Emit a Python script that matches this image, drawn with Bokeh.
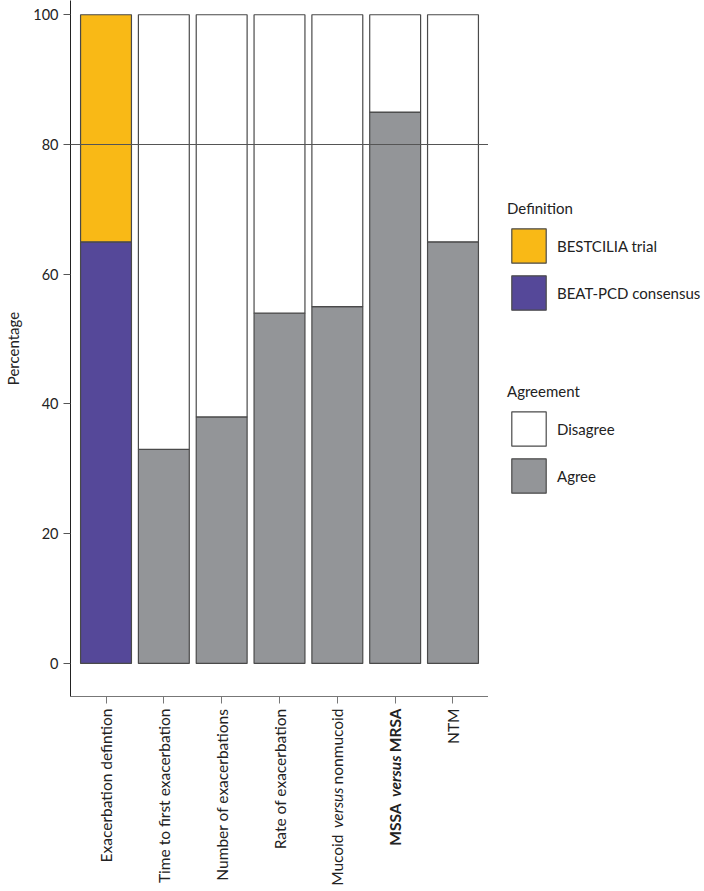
import math
from bokeh.plotting import figure
from bokeh.layouts import column, row
from bokeh.models import (FactorRange, Range1d, Span, Legend, LegendItem,
                          FixedTicker, ColumnDataSource)
from bokeh.core.properties import value
from bokeh.embed import file_html
from bokeh.resources import INLINE

# ---------------- data ----------------
categories = ["Exacerbation defintion", "Time to first exacerbation",
              "Number of exacerbations", "Rate of exacerbation",
              "Mucoid versus nonmucoid", "MSSA versus MRSA", "NTM"]
definition_categories = ["Exacerbation defintion"]
beat_pcd = [65]
bestcilia = [35]
agreement_categories = ["Time to first exacerbation", "Number of exacerbations",
                        "Rate of exacerbation", "Mucoid versus nonmucoid",
                        "MSSA versus MRSA", "NTM"]
agree = [33, 38, 54, 55, 85, 65]
disagree = [67, 62, 46, 45, 15, 35]
y_ticks = [0, 20, 40, 60, 80, 100]
threshold = 80

# label pieces: (category, text piece, font style)
label_pieces = [
    ("Exacerbation defintion", "Exacerbation defintion", "normal"),
    ("Time to first exacerbation", "Time to first exacerbation", "normal"),
    ("Number of exacerbations", "Number of exacerbations", "normal"),
    ("Rate of exacerbation", "Rate of exacerbation", "normal"),
    ("Mucoid versus nonmucoid", "nonmucoid", "normal"),
    ("Mucoid versus nonmucoid", "versus", "italic"),
    ("Mucoid versus nonmucoid", "Mucoid", "normal"),
    ("MSSA versus MRSA", "MRSA", "bold"),
    ("MSSA versus MRSA", "versus", "bold italic"),
    ("MSSA versus MRSA", "MSSA", "bold"),
    ("NTM", "NTM", "normal"),
]
# offset (px, downward from label top) of each piece, in the same order
piece_offsets = [0, 0, 0, 0, 0, 79, 126, 0, 47, 95, 0]

FONT = "Lato"
YELLOW = "#F9B916"
PURPLE = "#554899"
GREY = "#939598"
EDGE = "#4a4a4a"
TXT = "#222222"

LEFT = 70
FRAME_W = 418
FRAME_H = 696
AXIS_PANEL = 12
TOTAL_H = 891
LEG_W = 704 - LEFT - FRAME_W

x_range = FactorRange(factors=categories, range_padding=0.114,
                      range_padding_units="absolute")

# ---------------- main chart ----------------
p = figure(x_range=x_range, y_range=Range1d(-5.1, 102.2),
           width=LEFT + FRAME_W, height=FRAME_H + AXIS_PANEL,
           output_backend="svg", toolbar_location=None,
           min_border_left=LEFT, min_border_right=0, min_border_top=0,
           min_border_bottom=AXIS_PANEL)
p.outline_line_color = None
p.xgrid.visible = False
p.ygrid.visible = False

src_def = ColumnDataSource(dict(x=definition_categories, beat=beat_pcd, best=bestcilia))
p.vbar_stack(["beat", "best"], x="x", width=0.88, source=src_def,
             fill_color=[PURPLE, YELLOW], line_color=EDGE, line_width=1.2)
src_agr = ColumnDataSource(dict(x=agreement_categories, agree=agree, disagree=disagree))
p.vbar_stack(["agree", "disagree"], x="x", width=0.88, source=src_agr,
             fill_color=[GREY, "white"], line_color=EDGE, line_width=1.2)

p.add_layout(Span(location=threshold, dimension="width", line_color="#555555",
                  line_width=1.2))

p.yaxis.ticker = FixedTicker(ticks=y_ticks)
p.yaxis.axis_label = "Percentage"
p.yaxis.axis_label_text_font = FONT
p.yaxis.axis_label_text_font_style = "normal"
p.yaxis.axis_label_text_font_size = "15px"
p.yaxis.axis_label_text_color = TXT
p.yaxis.axis_label_standoff = 8
p.yaxis.major_label_text_font = FONT
p.yaxis.major_label_text_font_size = "14.5px"
p.yaxis.major_label_text_color = TXT
p.yaxis.major_label_standoff = 5
p.yaxis.major_tick_out = 7
p.yaxis.major_tick_in = 0
p.yaxis.minor_tick_line_color = None
p.yaxis.axis_line_color = TXT
p.yaxis.major_tick_line_color = "#555555"

p.xaxis.major_label_overrides = {c: " " for c in categories}
p.xaxis.major_label_text_font_size = "1px"
p.xaxis.major_label_text_alpha = 0
p.xaxis.major_label_standoff = 0
p.xaxis.major_tick_out = 7
p.xaxis.major_tick_in = 0
p.xaxis.axis_line_color = "#777777"
p.xaxis.major_tick_line_color = "#777777"

# ---------------- category label strip ----------------
STRIP_H = TOTAL_H - FRAME_H - AXIS_PANEL
s = figure(x_range=x_range, y_range=Range1d(STRIP_H, 0),
           width=LEFT + FRAME_W, height=STRIP_H,
           output_backend="svg", toolbar_location=None,
           min_border_left=LEFT, min_border_right=0, min_border_top=0,
           min_border_bottom=0, x_axis_location=None, y_axis_location=None)
s.outline_line_color = None
s.xgrid.visible = False
s.ygrid.visible = False
for style in ["normal", "italic", "bold", "bold italic"]:
    idx = [i for i, lp in enumerate(label_pieces) if lp[2] == style]
    src = ColumnDataSource(dict(x=[label_pieces[i][0] for i in idx],
                                y=[piece_offsets[i] for i in idx],
                                text=[label_pieces[i][1] for i in idx]))
    s.text(x="x", y="y", text="text", source=src, angle=math.pi / 2,
           text_align="right", text_baseline="middle",
           text_font=value(FONT), text_font_size=value("15.5px"),
           text_font_style=value(style), text_color=TXT)

# ---------------- legend panel ----------------
g = figure(x_range=Range1d(0, 1), y_range=Range1d(0, 1), width=LEG_W, height=TOTAL_H,
           output_backend="svg", toolbar_location=None,
           min_border_left=0, min_border_right=0, min_border_top=0,
           min_border_bottom=0, x_axis_location=None, y_axis_location=None)
g.outline_line_color = None
g.xgrid.visible = False
g.ygrid.visible = False
def swatch(color):
    # legend proxy, lies outside the visible range of this panel
    return g.vbar(x=[-1], top=[-1], bottom=[-2], width=0.1, fill_color=color,
                  line_color=EDGE, line_width=1.2)
sw_best, sw_beat = swatch(YELLOW), swatch(PURPLE)
sw_dis, sw_agr = swatch("white"), swatch(GREY)

def make_legend(title, items, bottom):
    return Legend(items=items, title=title, location=(19, bottom),
                  glyph_width=43, glyph_height=43, spacing=4, padding=0, margin=0,
                  label_standoff=7, title_standoff=7,
                  label_text_font=FONT, label_text_font_size="15px",
                  label_text_color=TXT,
                  title_text_font=FONT, title_text_font_size="15px",
                  title_text_font_style="normal", title_text_color=TXT,
                  border_line_color=None, background_fill_alpha=0)

g.add_layout(make_legend("Definition", [LegendItem(label="BESTCILIA trial", renderers=[sw_best]),
                                        LegendItem(label="BEAT-PCD consensus", renderers=[sw_beat])],
                         TOTAL_H - 314))
g.add_layout(make_legend("Agreement", [LegendItem(label="Disagree", renderers=[sw_dis]),
                                       LegendItem(label="Agree", renderers=[sw_agr])],
                         TOTAL_H - 497))

layout = row(column(p, s), g)
open("out.html", "w").write(file_html(layout, INLINE))
